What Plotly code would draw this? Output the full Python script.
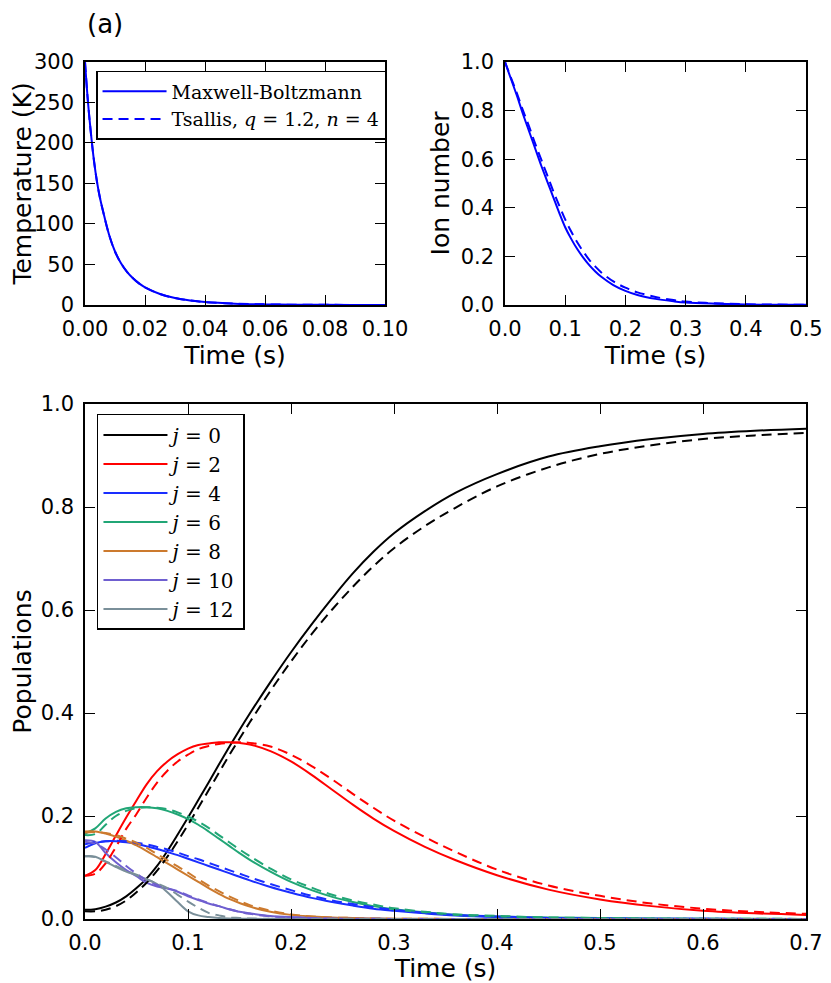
import plotly.graph_objects as go

# top left: temperature (K) vs time (s)
temp_t = [0, 0.001, 0.002, 0.003, 0.004, 0.005, 0.006, 0.008, 0.010, 0.012, 0.014,
          0.016, 0.018, 0.020, 0.025, 0.030, 0.035, 0.040, 0.050, 0.060, 0.070,
          0.080, 0.090, 0.100]
temp_mb = [300, 250, 211, 178, 152, 132, 116, 87, 66, 51.5, 41, 33, 26.6, 21.8, 13.5,
           8.5, 5.5, 3.6, 1.6, 0.7, 0.3, 0.13, 0.06, 0.03]
temp_ts = [300, 250, 211, 178, 152, 132, 116, 87, 66, 51.5, 41, 33, 26.6, 21.8, 13.5,
           8.5, 5.5, 3.6, 1.6, 0.7, 0.3, 0.13, 0.06, 0.03]

# top right: ion number vs time (s)
ion_t = [0, 0.01, 0.02, 0.03, 0.04, 0.05, 0.06, 0.07, 0.08, 0.09, 0.10, 0.11, 0.12,
         0.13, 0.14, 0.15, 0.16, 0.18, 0.20, 0.22, 0.25, 0.28, 0.30, 0.35, 0.40,
         0.45, 0.50]
ion_mb = [1.0, 0.93, 0.86, 0.785, 0.715, 0.645, 0.575, 0.51, 0.445, 0.38, 0.32,
          0.272, 0.23, 0.195, 0.164, 0.138, 0.116, 0.082, 0.058, 0.041, 0.025,
          0.015, 0.010, 0.005, 0.002, 0.001, 0.0005]
ion_ts = [1.0, 0.935, 0.87, 0.80, 0.735, 0.665, 0.60, 0.535, 0.47, 0.41, 0.352,
          0.302, 0.258, 0.22, 0.186, 0.158, 0.134, 0.097, 0.071, 0.052, 0.033,
          0.02, 0.014, 0.007, 0.003, 0.0015, 0.0007]

# bottom: rotational populations vs time (s)
pop_t = [0, 0.01, 0.02, 0.03, 0.04, 0.05, 0.06, 0.07, 0.08, 0.09, 0.10, 0.11, 0.12,
         0.13, 0.14, 0.15, 0.16, 0.18, 0.20, 0.22, 0.24, 0.26, 0.28, 0.30, 0.33,
         0.36, 0.40, 0.45, 0.50, 0.55, 0.60, 0.65, 0.70]
j_labels = ["0", "2", "4", "6", "8", "10", "12"]

j0_mb = [0.018, 0.019, 0.024, 0.032, 0.044, 0.060, 0.079, 0.103, 0.132, 0.164, 0.197,
         0.231, 0.265, 0.300, 0.334, 0.367, 0.399, 0.460, 0.518, 0.572, 0.623, 0.671,
         0.713, 0.749, 0.792, 0.828, 0.864, 0.898, 0.918, 0.932, 0.942, 0.948, 0.952]
j0_ts = [0.015, 0.015, 0.018, 0.025, 0.036, 0.052, 0.071, 0.094, 0.121, 0.151, 0.183,
         0.216, 0.250, 0.284, 0.318, 0.350, 0.382, 0.443, 0.500, 0.553, 0.601, 0.645,
         0.685, 0.720, 0.763, 0.799, 0.840, 0.877, 0.903, 0.920, 0.932, 0.939, 0.944]
j2_mb = [0.084, 0.095, 0.126, 0.162, 0.197, 0.230, 0.262, 0.287, 0.306, 0.320, 0.331,
         0.338, 0.341, 0.343, 0.343, 0.342, 0.339, 0.326, 0.306, 0.280, 0.251, 0.222,
         0.195, 0.171, 0.140, 0.114, 0.085, 0.057, 0.038, 0.025, 0.016, 0.011, 0.008]
j2_ts = [0.084, 0.088, 0.108, 0.140, 0.175, 0.204, 0.236, 0.265, 0.288, 0.306, 0.319,
         0.330, 0.336, 0.340, 0.342, 0.343, 0.342, 0.335, 0.319, 0.297, 0.271, 0.243,
         0.216, 0.191, 0.159, 0.130, 0.096, 0.065, 0.045, 0.030, 0.020, 0.014, 0.010]
j4_mb = [0.138, 0.147, 0.151, 0.151, 0.149, 0.146, 0.141, 0.136, 0.130, 0.124, 0.117,
         0.110, 0.103, 0.096, 0.089, 0.082, 0.075, 0.062, 0.051, 0.041, 0.033, 0.026,
         0.020, 0.016, 0.011, 0.007, 0.004, 0.002, 0.001, 0.0005, 0.0003, 0.0002, 0.0001]
j4_ts = [0.145, 0.149, 0.151, 0.152, 0.151, 0.148, 0.145, 0.140, 0.135, 0.129, 0.122,
         0.116, 0.109, 0.102, 0.095, 0.088, 0.081, 0.068, 0.056, 0.045, 0.036, 0.029,
         0.023, 0.018, 0.012, 0.008, 0.005, 0.002, 0.001, 0.0006, 0.0004, 0.0002, 0.0001]
j6_mb = [0.166, 0.176, 0.195, 0.208, 0.215, 0.217, 0.217, 0.215, 0.210, 0.203, 0.194,
         0.183, 0.170, 0.156, 0.142, 0.128, 0.115, 0.092, 0.072, 0.056, 0.043, 0.033,
         0.025, 0.019, 0.013, 0.008, 0.005, 0.003, 0.002, 0.001, 0.0005, 0.0003, 0.0002]
j6_ts = [0.163, 0.165, 0.183, 0.200, 0.210, 0.215, 0.217, 0.216, 0.213, 0.207, 0.199,
         0.189, 0.177, 0.163, 0.149, 0.135, 0.122, 0.098, 0.077, 0.061, 0.047, 0.036,
         0.028, 0.021, 0.014, 0.009, 0.006, 0.003, 0.002, 0.001, 0.0006, 0.0004, 0.0002]
j8_mb = [0.170, 0.170, 0.166, 0.160, 0.152, 0.143, 0.132, 0.120, 0.108, 0.096, 0.084,
         0.072, 0.060, 0.049, 0.039, 0.031, 0.024, 0.014, 0.008, 0.005, 0.003, 0.002,
         0.001, 0.0005, 0.0003, 0.0002, 0.0001, 0, 0, 0, 0, 0, 0]
j8_ts = [0.168, 0.169, 0.167, 0.163, 0.156, 0.148, 0.138, 0.126, 0.114, 0.102, 0.090,
         0.077, 0.065, 0.054, 0.044, 0.035, 0.027, 0.016, 0.009, 0.005, 0.003, 0.002,
         0.001, 0.0005, 0.0003, 0.0002, 0.0001, 0, 0, 0, 0, 0, 0]
j10_mb = [0.153, 0.150, 0.128, 0.110, 0.095, 0.083, 0.070, 0.063, 0.059, 0.053, 0.044,
          0.037, 0.030, 0.025, 0.019, 0.014, 0.011, 0.006, 0.004, 0.002, 0.001, 0.0005,
          0.0003, 0.0002, 0.0001, 0, 0, 0, 0, 0, 0, 0, 0]
j10_ts = [0.150, 0.146, 0.135, 0.120, 0.103, 0.088, 0.075, 0.066, 0.060, 0.054, 0.046,
          0.038, 0.031, 0.025, 0.019, 0.014, 0.010, 0.005, 0.003, 0.002, 0.001, 0.0005,
          0.0003, 0.0002, 0.0001, 0, 0, 0, 0, 0, 0, 0, 0]
j12_mb = [0.122, 0.121, 0.111, 0.101, 0.092, 0.085, 0.077, 0.068, 0.052, 0.033, 0.015,
          0.007, 0.004, 0.002, 0.001, 0.0005, 0.0003, 0.0001, 0, 0, 0, 0, 0, 0, 0, 0,
          0, 0, 0, 0, 0, 0, 0]
j12_ts = [0.122, 0.120, 0.112, 0.103, 0.094, 0.086, 0.077, 0.069, 0.060, 0.047, 0.034,
          0.022, 0.012, 0.007, 0.003, 0.002, 0.001, 0.0005, 0.0002, 0, 0, 0, 0, 0, 0,
          0, 0, 0, 0, 0, 0, 0, 0]

pops_mb = [j0_mb, j2_mb, j4_mb, j6_mb, j8_mb, j10_mb, j12_mb]
pops_ts = [j0_ts, j2_ts, j4_ts, j6_ts, j8_ts, j10_ts, j12_ts]
j_colors = ["#000000", "#ff0000", "#1a2eff", "#21a676", "#cc7a2e", "#6f5fd0", "#7a8f99"]

DASH = "10px,6px"
LW = 2

fig = go.Figure()

# temperature panel
fig.add_trace(go.Scatter(x=temp_t, y=temp_mb, mode="lines", line_shape="spline",
                         line=dict(color="#0000ff", width=LW), name="Maxwell-Boltzmann",
                         xaxis="x", yaxis="y", legend="legend"))
fig.add_trace(go.Scatter(x=temp_t, y=temp_ts, mode="lines", line_shape="spline",
                         line=dict(color="#0000ff", width=LW, dash=DASH),
                         name="Tsallis, <i>q</i> = 1.2, <i>n</i> = 4",
                         xaxis="x", yaxis="y", legend="legend"))

# ion number panel
fig.add_trace(go.Scatter(x=ion_t, y=ion_mb, mode="lines", line_shape="spline",
                         line=dict(color="#0000ff", width=LW), showlegend=False,
                         xaxis="x2", yaxis="y2"))
fig.add_trace(go.Scatter(x=ion_t, y=ion_ts, mode="lines", line_shape="spline",
                         line=dict(color="#0000ff", width=LW, dash=DASH), showlegend=False,
                         xaxis="x2", yaxis="y2"))

# populations panel
for lab, ymb, col in zip(j_labels, pops_mb, j_colors):
    fig.add_trace(go.Scatter(x=pop_t, y=ymb, mode="lines", line_shape="spline",
                             line=dict(color=col, width=LW), name="<i>j</i> = " + lab,
                             xaxis="x3", yaxis="y3", legend="legend2"))
for lab, yts, col in zip(j_labels, pops_ts, j_colors):
    fig.add_trace(go.Scatter(x=pop_t, y=yts, mode="lines", line_shape="spline",
                             line=dict(color=col, width=LW, dash=DASH), showlegend=False,
                             xaxis="x3", yaxis="y3"))

tickfont = dict(family="DejaVu Sans", size=21, color="black")
titlefont = dict(family="DejaVu Sans", size=25, color="black")


def xax(**kw):
    base = dict(showline=True, linecolor="black", linewidth=1.5, mirror="ticks",
                ticks="inside", ticklen=10, tickwidth=1, tickcolor="black",
                showgrid=False, zeroline=False, tickfont=tickfont, ticklabelstandoff=4,
                automargin=False)
    base.update(kw)
    return base


def yax(**kw):
    base = xax(ticklabelstandoff=5)
    base.update(kw)
    return base


# page body adds an 8px offset, so the figure is 8px smaller than the window
fig.update_layout(
    width=823, height=975,
    margin=dict(l=77, r=25, t=54, b=64),
    plot_bgcolor="white", paper_bgcolor="white",
    xaxis=xax(domain=[0, 0.4161], range=[0, 0.1], dtick=0.02, tickformat=".2f",
              anchor="y", title=dict(text="Time (s)", font=titlefont, standoff=0)),
    yaxis=yax(domain=[0.7165, 1], range=[0, 300], dtick=50, anchor="x",
              title=dict(text="Temperature (K)", font=titlefont, standoff=0)),
    xaxis2=xax(domain=[0.5825, 1], range=[0, 0.5], dtick=0.1, tickformat=".1f",
               anchor="y2", title=dict(text="Time (s)", font=titlefont, standoff=0)),
    yaxis2=yax(domain=[0.7165, 1], range=[0, 1], dtick=0.2, tickformat=".1f", anchor="x2",
               title=dict(text="Ion number", font=titlefont, standoff=4)),
    xaxis3=xax(domain=[0, 1], range=[0, 0.7], dtick=0.1, tickformat=".1f", anchor="y3",
               title=dict(text="Time (s)", font=titlefont, standoff=0)),
    yaxis3=yax(domain=[0, 0.6009], range=[0, 1], dtick=0.2, tickformat=".1f", anchor="x3",
               title=dict(text="Populations", font=titlefont, standoff=8)),
    legend=dict(x=0.0153, y=0.9895, xanchor="left", yanchor="top", bgcolor="white",
                bordercolor="black", borderwidth=1.5, itemwidth=64,
                font=dict(family="DejaVu Serif", size=19, color="black")),
    legend2=dict(x=0.0166, y=0.5893, xanchor="left", yanchor="top", bgcolor="white",
                 bordercolor="black", borderwidth=1.5, itemwidth=64,
                 font=dict(family="DejaVu Serif", size=20, color="black")),
    annotations=[dict(text="(a)", xref="paper", yref="paper", x=0.0, y=1.0443,
                      xanchor="left", yanchor="middle", showarrow=False,
                      font=dict(family="DejaVu Sans", size=26, color="black"))],
)

fig.write_html("out.html")
